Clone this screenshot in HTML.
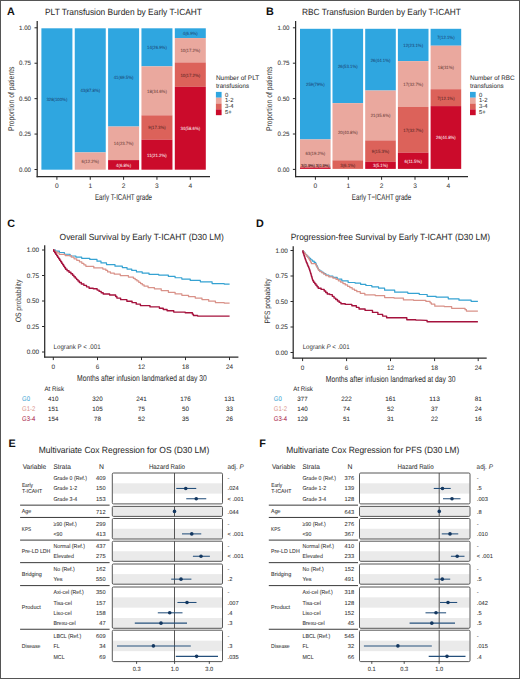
<!DOCTYPE html>
<html><head><meta charset="utf-8"><style>
html,body{margin:0;padding:0;background:#fff;width:520px;height:679px;overflow:hidden;}
body{position:relative;font-family:"Liberation Sans", sans-serif;}
</style></head><body>
<svg width="520" height="679" viewBox="0 0 520 679" style="position:absolute;left:0;top:0;font-family:'Liberation Sans', sans-serif;text-rendering:geometricPrecision">
<rect x="0" y="0" width="520" height="679" fill="#fff"/>
<rect x="41.40" y="28.30" width="31.00" height="141.40" fill="#2FA6E0"/>
<rect x="74.75" y="28.30" width="31.00" height="124.09" fill="#2FA6E0"/>
<rect x="74.75" y="152.39" width="31.00" height="17.31" fill="#EAA89E"/>
<rect x="108.10" y="28.30" width="31.00" height="98.26" fill="#2FA6E0"/>
<rect x="108.10" y="126.56" width="31.00" height="33.55" fill="#EAA89E"/>
<rect x="108.10" y="160.11" width="31.00" height="9.59" fill="#CB0B2B"/>
<rect x="141.45" y="28.30" width="31.00" height="38.07" fill="#2FA6E0"/>
<rect x="141.45" y="66.37" width="31.00" height="48.95" fill="#EAA89E"/>
<rect x="141.45" y="115.32" width="31.00" height="24.47" fill="#DC625A"/>
<rect x="141.45" y="139.79" width="31.00" height="29.91" fill="#CB0B2B"/>
<rect x="174.80" y="28.30" width="31.00" height="9.75" fill="#2FA6E0"/>
<rect x="174.80" y="38.05" width="31.00" height="24.38" fill="#EAA89E"/>
<rect x="174.80" y="62.43" width="31.00" height="24.38" fill="#DC625A"/>
<rect x="174.80" y="86.81" width="31.00" height="82.89" fill="#CB0B2B"/>
<text x="56.90" y="100.90" font-size="4.6" fill="#1a3d6e" text-anchor="middle" textLength="20.93" lengthAdjust="spacingAndGlyphs">328(100%)</text>
<text x="90.25" y="92.24" font-size="4.6" fill="#1a3d6e" text-anchor="middle" textLength="19.74" lengthAdjust="spacingAndGlyphs">43(87.8%)</text>
<text x="90.25" y="162.94" font-size="4.6" fill="#5e3432" text-anchor="middle" textLength="17.36" lengthAdjust="spacingAndGlyphs">6(12.2%)</text>
<text x="123.60" y="79.33" font-size="4.6" fill="#1a3d6e" text-anchor="middle" textLength="19.74" lengthAdjust="spacingAndGlyphs">41(69.5%)</text>
<text x="123.60" y="145.24" font-size="4.6" fill="#5e3432" text-anchor="middle" textLength="19.74" lengthAdjust="spacingAndGlyphs">14(23.7%)</text>
<text x="123.60" y="166.81" font-size="4.6" fill="#ffffff" text-anchor="middle" textLength="14.98" lengthAdjust="spacingAndGlyphs">4(6.8%)</text>
<text x="156.95" y="49.23" font-size="4.6" fill="#1a3d6e" text-anchor="middle" textLength="19.74" lengthAdjust="spacingAndGlyphs">14(26.9%)</text>
<text x="156.95" y="92.74" font-size="4.6" fill="#5e3432" text-anchor="middle" textLength="19.74" lengthAdjust="spacingAndGlyphs">18(34.6%)</text>
<text x="156.95" y="129.45" font-size="4.6" fill="#4e1e1e" text-anchor="middle" textLength="17.36" lengthAdjust="spacingAndGlyphs">9(17.3%)</text>
<text x="156.95" y="156.64" font-size="4.6" fill="#ffffff" text-anchor="middle" textLength="19.74" lengthAdjust="spacingAndGlyphs">11(21.2%)</text>
<text x="190.30" y="35.08" font-size="4.6" fill="#1a3d6e" text-anchor="middle" textLength="14.98" lengthAdjust="spacingAndGlyphs">4(6.9%)</text>
<text x="190.30" y="52.14" font-size="4.6" fill="#5e3432" text-anchor="middle" textLength="19.74" lengthAdjust="spacingAndGlyphs">10(17.2%)</text>
<text x="190.30" y="76.52" font-size="4.6" fill="#4e1e1e" text-anchor="middle" textLength="19.74" lengthAdjust="spacingAndGlyphs">10(17.2%)</text>
<text x="190.30" y="130.16" font-size="4.6" fill="#ffffff" text-anchor="middle" textLength="19.74" lengthAdjust="spacingAndGlyphs">34(58.6%)</text>
<line x1="37.20" y1="21.00" x2="37.20" y2="177.20" stroke="#2a2a2a" stroke-width="1.25"/>
<line x1="36.60" y1="176.70" x2="210.00" y2="176.70" stroke="#2a2a2a" stroke-width="1.25"/>
<line x1="34.50" y1="169.50" x2="37.20" y2="169.50" stroke="#2a2a2a" stroke-width="1.0"/>
<text x="31.00" y="171.75" font-size="6.3" fill="#3c3c3c" text-anchor="end" textLength="12.0" lengthAdjust="spacingAndGlyphs" stroke="#3c3c3c" stroke-width="0.08">0.00</text>
<line x1="34.50" y1="134.07" x2="37.20" y2="134.07" stroke="#2a2a2a" stroke-width="1.0"/>
<text x="31.00" y="136.32" font-size="6.3" fill="#3c3c3c" text-anchor="end" textLength="12.0" lengthAdjust="spacingAndGlyphs" stroke="#3c3c3c" stroke-width="0.08">0.25</text>
<line x1="34.50" y1="98.65" x2="37.20" y2="98.65" stroke="#2a2a2a" stroke-width="1.0"/>
<text x="31.00" y="100.90" font-size="6.3" fill="#3c3c3c" text-anchor="end" textLength="12.0" lengthAdjust="spacingAndGlyphs" stroke="#3c3c3c" stroke-width="0.08">0.50</text>
<line x1="34.50" y1="63.23" x2="37.20" y2="63.23" stroke="#2a2a2a" stroke-width="1.0"/>
<text x="31.00" y="65.48" font-size="6.3" fill="#3c3c3c" text-anchor="end" textLength="12.0" lengthAdjust="spacingAndGlyphs" stroke="#3c3c3c" stroke-width="0.08">0.75</text>
<line x1="34.50" y1="27.80" x2="37.20" y2="27.80" stroke="#2a2a2a" stroke-width="1.0"/>
<text x="31.00" y="30.05" font-size="6.3" fill="#3c3c3c" text-anchor="end" textLength="12.0" lengthAdjust="spacingAndGlyphs" stroke="#3c3c3c" stroke-width="0.08">1.00</text>
<line x1="56.90" y1="176.70" x2="56.90" y2="179.80" stroke="#2a2a2a" stroke-width="1.0"/>
<text x="56.90" y="188.30" font-size="6.6" fill="#3c3c3c" text-anchor="middle" stroke="#3c3c3c" stroke-width="0.06">0</text>
<line x1="90.25" y1="176.70" x2="90.25" y2="179.80" stroke="#2a2a2a" stroke-width="1.0"/>
<text x="90.25" y="188.30" font-size="6.6" fill="#3c3c3c" text-anchor="middle" stroke="#3c3c3c" stroke-width="0.06">1</text>
<line x1="123.60" y1="176.70" x2="123.60" y2="179.80" stroke="#2a2a2a" stroke-width="1.0"/>
<text x="123.60" y="188.30" font-size="6.6" fill="#3c3c3c" text-anchor="middle" stroke="#3c3c3c" stroke-width="0.06">2</text>
<line x1="156.95" y1="176.70" x2="156.95" y2="179.80" stroke="#2a2a2a" stroke-width="1.0"/>
<text x="156.95" y="188.30" font-size="6.6" fill="#3c3c3c" text-anchor="middle" stroke="#3c3c3c" stroke-width="0.06">3</text>
<line x1="190.30" y1="176.70" x2="190.30" y2="179.80" stroke="#2a2a2a" stroke-width="1.0"/>
<text x="190.30" y="188.30" font-size="6.6" fill="#3c3c3c" text-anchor="middle" stroke="#3c3c3c" stroke-width="0.06">4</text>
<text x="95.00" y="199.90" font-size="8.5" fill="#333333" textLength="57.0" lengthAdjust="spacingAndGlyphs" stroke="#333333" stroke-width="0.06">Early T-ICAHT grade</text>
<text transform="translate(13.70,98.80) rotate(-90)" font-size="8.3" fill="#333333" text-anchor="middle" textLength="64.5" lengthAdjust="spacingAndGlyphs">Proportion of patients</text>
<text x="45.00" y="15.00" font-size="8.9" fill="#2a2a2a" textLength="157" lengthAdjust="spacingAndGlyphs" stroke="#2a2a2a" stroke-width="0.04">PLT Transfusion Burden by Early T-ICAHT</text>
<text x="215.90" y="80.00" font-size="6.4" fill="#333333" textLength="43.3" lengthAdjust="spacingAndGlyphs" stroke="#333333" stroke-width="0.05">Number of PLT</text>
<text x="215.90" y="87.70" font-size="6.4" fill="#333333" textLength="33.1" lengthAdjust="spacingAndGlyphs" stroke="#333333" stroke-width="0.05">transfusions</text>
<rect x="215.90" y="91.90" width="5.70" height="5.82" fill="#2FA6E0"/>
<text x="224.90" y="96.60" font-size="5.9" fill="#333333" stroke="#333333" stroke-width="0.06">0</text>
<rect x="215.90" y="97.72" width="5.70" height="5.82" fill="#EAA89E"/>
<text x="224.90" y="102.42" font-size="5.9" fill="#333333" stroke="#333333" stroke-width="0.06">1-2</text>
<rect x="215.90" y="103.54" width="5.70" height="5.82" fill="#DC625A"/>
<text x="224.90" y="108.24" font-size="5.9" fill="#333333" stroke="#333333" stroke-width="0.06">3-4</text>
<rect x="215.90" y="109.36" width="5.70" height="5.82" fill="#CB0B2B"/>
<text x="224.90" y="114.06" font-size="5.9" fill="#333333" stroke="#333333" stroke-width="0.06">5+</text>
<rect x="300.00" y="28.80" width="30.60" height="110.63" fill="#2FA6E0"/>
<rect x="300.00" y="139.43" width="30.60" height="26.91" fill="#EAA89E"/>
<rect x="300.00" y="166.34" width="30.60" height="1.28" fill="#DC625A"/>
<rect x="300.00" y="167.62" width="30.60" height="1.28" fill="#CB0B2B"/>
<rect x="332.50" y="28.80" width="30.60" height="74.34" fill="#2FA6E0"/>
<rect x="332.50" y="103.14" width="30.60" height="57.18" fill="#EAA89E"/>
<rect x="332.50" y="160.32" width="30.60" height="8.58" fill="#DC625A"/>
<rect x="365.20" y="28.80" width="30.60" height="61.74" fill="#2FA6E0"/>
<rect x="365.20" y="90.54" width="30.60" height="49.87" fill="#EAA89E"/>
<rect x="365.20" y="140.41" width="30.60" height="21.37" fill="#DC625A"/>
<rect x="365.20" y="161.78" width="30.60" height="7.12" fill="#CB0B2B"/>
<rect x="397.90" y="28.80" width="30.60" height="32.33" fill="#2FA6E0"/>
<rect x="397.90" y="61.13" width="30.60" height="45.80" fill="#EAA89E"/>
<rect x="397.90" y="106.93" width="30.60" height="45.80" fill="#DC625A"/>
<rect x="397.90" y="152.73" width="30.60" height="16.17" fill="#CB0B2B"/>
<rect x="430.60" y="28.80" width="30.60" height="16.91" fill="#2FA6E0"/>
<rect x="430.60" y="45.71" width="30.60" height="43.48" fill="#EAA89E"/>
<rect x="430.60" y="89.19" width="30.60" height="16.91" fill="#DC625A"/>
<rect x="430.60" y="106.10" width="30.60" height="62.80" fill="#CB0B2B"/>
<text x="315.30" y="86.01" font-size="4.6" fill="#1a3d6e" text-anchor="middle" textLength="18.55" lengthAdjust="spacingAndGlyphs">259(79%)</text>
<text x="315.30" y="154.78" font-size="4.6" fill="#5e3432" text-anchor="middle" textLength="19.74" lengthAdjust="spacingAndGlyphs">63(19.2%)</text>
<text x="308.00" y="167.40" font-size="4.4" fill="#3a0a10" text-anchor="middle" textLength="13.87" lengthAdjust="spacingAndGlyphs" stroke="#3a0a10" stroke-width="0.05">3(0.9%)</text>
<text x="322.60" y="167.40" font-size="4.4" fill="#3a0a10" text-anchor="middle" textLength="13.87" lengthAdjust="spacingAndGlyphs" stroke="#3a0a10" stroke-width="0.05">3(0.9%)</text>
<text x="347.80" y="67.87" font-size="4.6" fill="#1a3d6e" text-anchor="middle" textLength="19.74" lengthAdjust="spacingAndGlyphs">26(53.1%)</text>
<text x="347.80" y="133.63" font-size="4.6" fill="#5e3432" text-anchor="middle" textLength="19.74" lengthAdjust="spacingAndGlyphs">20(40.8%)</text>
<text x="347.80" y="166.51" font-size="4.6" fill="#4e1e1e" text-anchor="middle" textLength="14.98" lengthAdjust="spacingAndGlyphs">3(6.1%)</text>
<text x="380.50" y="61.57" font-size="4.6" fill="#1a3d6e" text-anchor="middle" textLength="19.74" lengthAdjust="spacingAndGlyphs">26(44.1%)</text>
<text x="380.50" y="117.37" font-size="4.6" fill="#5e3432" text-anchor="middle" textLength="19.74" lengthAdjust="spacingAndGlyphs">21(35.6%)</text>
<text x="380.50" y="152.99" font-size="4.6" fill="#4e1e1e" text-anchor="middle" textLength="17.36" lengthAdjust="spacingAndGlyphs">9(15.3%)</text>
<text x="380.50" y="167.24" font-size="4.6" fill="#ffffff" text-anchor="middle" textLength="14.98" lengthAdjust="spacingAndGlyphs">3(5.1%)</text>
<text x="413.20" y="46.87" font-size="4.6" fill="#1a3d6e" text-anchor="middle" textLength="19.74" lengthAdjust="spacingAndGlyphs">12(23.1%)</text>
<text x="413.20" y="85.93" font-size="4.6" fill="#5e3432" text-anchor="middle" textLength="19.74" lengthAdjust="spacingAndGlyphs">17(32.7%)</text>
<text x="413.20" y="131.73" font-size="4.6" fill="#4e1e1e" text-anchor="middle" textLength="19.74" lengthAdjust="spacingAndGlyphs">17(32.7%)</text>
<text x="413.20" y="162.72" font-size="4.6" fill="#ffffff" text-anchor="middle" textLength="17.36" lengthAdjust="spacingAndGlyphs">6(11.5%)</text>
<text x="445.90" y="39.15" font-size="4.6" fill="#1a3d6e" text-anchor="middle" textLength="17.36" lengthAdjust="spacingAndGlyphs">7(12.1%)</text>
<text x="445.90" y="69.35" font-size="4.6" fill="#5e3432" text-anchor="middle" textLength="16.17" lengthAdjust="spacingAndGlyphs">18(31%)</text>
<text x="445.90" y="99.54" font-size="4.6" fill="#4e1e1e" text-anchor="middle" textLength="17.36" lengthAdjust="spacingAndGlyphs">7(12.1%)</text>
<text x="445.90" y="139.40" font-size="4.6" fill="#ffffff" text-anchor="middle" textLength="19.74" lengthAdjust="spacingAndGlyphs">26(44.8%)</text>
<line x1="295.60" y1="21.00" x2="295.60" y2="177.20" stroke="#2a2a2a" stroke-width="1.25"/>
<line x1="295.00" y1="176.70" x2="468.00" y2="176.70" stroke="#2a2a2a" stroke-width="1.25"/>
<line x1="292.90" y1="169.40" x2="295.60" y2="169.40" stroke="#2a2a2a" stroke-width="1.0"/>
<text x="289.50" y="171.65" font-size="6.3" fill="#3c3c3c" text-anchor="end" textLength="12.0" lengthAdjust="spacingAndGlyphs" stroke="#3c3c3c" stroke-width="0.08">0.00</text>
<line x1="292.90" y1="134.00" x2="295.60" y2="134.00" stroke="#2a2a2a" stroke-width="1.0"/>
<text x="289.50" y="136.25" font-size="6.3" fill="#3c3c3c" text-anchor="end" textLength="12.0" lengthAdjust="spacingAndGlyphs" stroke="#3c3c3c" stroke-width="0.08">0.25</text>
<line x1="292.90" y1="98.60" x2="295.60" y2="98.60" stroke="#2a2a2a" stroke-width="1.0"/>
<text x="289.50" y="100.85" font-size="6.3" fill="#3c3c3c" text-anchor="end" textLength="12.0" lengthAdjust="spacingAndGlyphs" stroke="#3c3c3c" stroke-width="0.08">0.50</text>
<line x1="292.90" y1="63.20" x2="295.60" y2="63.20" stroke="#2a2a2a" stroke-width="1.0"/>
<text x="289.50" y="65.45" font-size="6.3" fill="#3c3c3c" text-anchor="end" textLength="12.0" lengthAdjust="spacingAndGlyphs" stroke="#3c3c3c" stroke-width="0.08">0.75</text>
<line x1="292.90" y1="27.80" x2="295.60" y2="27.80" stroke="#2a2a2a" stroke-width="1.0"/>
<text x="289.50" y="30.05" font-size="6.3" fill="#3c3c3c" text-anchor="end" textLength="12.0" lengthAdjust="spacingAndGlyphs" stroke="#3c3c3c" stroke-width="0.08">1.00</text>
<line x1="315.40" y1="176.70" x2="315.40" y2="179.80" stroke="#2a2a2a" stroke-width="1.0"/>
<text x="315.40" y="188.30" font-size="6.6" fill="#3c3c3c" text-anchor="middle" stroke="#3c3c3c" stroke-width="0.06">0</text>
<line x1="348.30" y1="176.70" x2="348.30" y2="179.80" stroke="#2a2a2a" stroke-width="1.0"/>
<text x="348.30" y="188.30" font-size="6.6" fill="#3c3c3c" text-anchor="middle" stroke="#3c3c3c" stroke-width="0.06">1</text>
<line x1="381.60" y1="176.70" x2="381.60" y2="179.80" stroke="#2a2a2a" stroke-width="1.0"/>
<text x="381.60" y="188.30" font-size="6.6" fill="#3c3c3c" text-anchor="middle" stroke="#3c3c3c" stroke-width="0.06">2</text>
<line x1="415.00" y1="176.70" x2="415.00" y2="179.80" stroke="#2a2a2a" stroke-width="1.0"/>
<text x="415.00" y="188.30" font-size="6.6" fill="#3c3c3c" text-anchor="middle" stroke="#3c3c3c" stroke-width="0.06">3</text>
<line x1="448.40" y1="176.70" x2="448.40" y2="179.80" stroke="#2a2a2a" stroke-width="1.0"/>
<text x="448.40" y="188.30" font-size="6.6" fill="#3c3c3c" text-anchor="middle" stroke="#3c3c3c" stroke-width="0.06">4</text>
<text x="351.80" y="199.90" font-size="8.5" fill="#333333" textLength="59.5" lengthAdjust="spacingAndGlyphs" stroke="#333333" stroke-width="0.06">Early T−ICAHT grade</text>
<text transform="translate(272.00,98.80) rotate(-90)" font-size="8.3" fill="#333333" text-anchor="middle" textLength="64.5" lengthAdjust="spacingAndGlyphs">Proportion of patients</text>
<text x="302.00" y="15.00" font-size="8.9" fill="#2a2a2a" textLength="158.8" lengthAdjust="spacingAndGlyphs" stroke="#2a2a2a" stroke-width="0.04">RBC Transfusion Burden by Early T-ICAHT</text>
<text x="470.00" y="80.00" font-size="6.4" fill="#333333" textLength="44.6" lengthAdjust="spacingAndGlyphs" stroke="#333333" stroke-width="0.05">Number of RBC</text>
<text x="470.00" y="87.70" font-size="6.4" fill="#333333" textLength="33.5" lengthAdjust="spacingAndGlyphs" stroke="#333333" stroke-width="0.05">transfusions</text>
<rect x="470.00" y="91.90" width="5.70" height="5.82" fill="#2FA6E0"/>
<text x="479.00" y="96.60" font-size="5.9" fill="#333333" stroke="#333333" stroke-width="0.06">0</text>
<rect x="470.00" y="97.72" width="5.70" height="5.82" fill="#EAA89E"/>
<text x="479.00" y="102.42" font-size="5.9" fill="#333333" stroke="#333333" stroke-width="0.06">1-2</text>
<rect x="470.00" y="103.54" width="5.70" height="5.82" fill="#DC625A"/>
<text x="479.00" y="108.24" font-size="5.9" fill="#333333" stroke="#333333" stroke-width="0.06">3-4</text>
<rect x="470.00" y="109.36" width="5.70" height="5.82" fill="#CB0B2B"/>
<text x="479.00" y="114.06" font-size="5.9" fill="#333333" stroke="#333333" stroke-width="0.06">5+</text>
<text x="6.90" y="14.80" font-size="10.8" fill="#111" font-weight="bold">A</text>
<text x="265.90" y="14.80" font-size="10.8" fill="#111" font-weight="bold">B</text>
<text x="7.20" y="227.20" font-size="10.8" fill="#111" font-weight="bold">C</text>
<text x="256.00" y="227.20" font-size="10.8" fill="#111" font-weight="bold">D</text>
<text x="8.50" y="447.20" font-size="10.8" fill="#111" font-weight="bold">E</text>
<text x="259.30" y="447.20" font-size="10.8" fill="#111" font-weight="bold">F</text>
<line x1="44.70" y1="245.20" x2="44.70" y2="357.50" stroke="#2a2a2a" stroke-width="1.25"/>
<line x1="44.10" y1="357.00" x2="238.40" y2="357.00" stroke="#2a2a2a" stroke-width="1.25"/>
<line x1="42.00" y1="352.00" x2="44.70" y2="352.00" stroke="#2a2a2a" stroke-width="1.0"/>
<text x="39.10" y="354.30" font-size="6.4" fill="#3c3c3c" text-anchor="end" textLength="12.4" lengthAdjust="spacingAndGlyphs" stroke="#3c3c3c" stroke-width="0.08">0.00</text>
<line x1="42.00" y1="326.50" x2="44.70" y2="326.50" stroke="#2a2a2a" stroke-width="1.0"/>
<text x="39.10" y="328.80" font-size="6.4" fill="#3c3c3c" text-anchor="end" textLength="12.4" lengthAdjust="spacingAndGlyphs" stroke="#3c3c3c" stroke-width="0.08">0.25</text>
<line x1="42.00" y1="301.00" x2="44.70" y2="301.00" stroke="#2a2a2a" stroke-width="1.0"/>
<text x="39.10" y="303.30" font-size="6.4" fill="#3c3c3c" text-anchor="end" textLength="12.4" lengthAdjust="spacingAndGlyphs" stroke="#3c3c3c" stroke-width="0.08">0.50</text>
<line x1="42.00" y1="275.50" x2="44.70" y2="275.50" stroke="#2a2a2a" stroke-width="1.0"/>
<text x="39.10" y="277.80" font-size="6.4" fill="#3c3c3c" text-anchor="end" textLength="12.4" lengthAdjust="spacingAndGlyphs" stroke="#3c3c3c" stroke-width="0.08">0.75</text>
<line x1="42.00" y1="250.00" x2="44.70" y2="250.00" stroke="#2a2a2a" stroke-width="1.0"/>
<text x="39.10" y="252.30" font-size="6.4" fill="#3c3c3c" text-anchor="end" textLength="12.4" lengthAdjust="spacingAndGlyphs" stroke="#3c3c3c" stroke-width="0.08">1.00</text>
<line x1="53.30" y1="357.00" x2="53.30" y2="360.10" stroke="#2a2a2a" stroke-width="1.0"/>
<text x="53.30" y="368.60" font-size="6.4" fill="#3c3c3c" text-anchor="middle" stroke="#3c3c3c" stroke-width="0.06">0</text>
<line x1="97.50" y1="357.00" x2="97.50" y2="360.10" stroke="#2a2a2a" stroke-width="1.0"/>
<text x="97.50" y="368.60" font-size="6.4" fill="#3c3c3c" text-anchor="middle" stroke="#3c3c3c" stroke-width="0.06">6</text>
<line x1="141.50" y1="357.00" x2="141.50" y2="360.10" stroke="#2a2a2a" stroke-width="1.0"/>
<text x="141.50" y="368.60" font-size="6.4" fill="#3c3c3c" text-anchor="middle" stroke="#3c3c3c" stroke-width="0.06">12</text>
<line x1="185.50" y1="357.00" x2="185.50" y2="360.10" stroke="#2a2a2a" stroke-width="1.0"/>
<text x="185.50" y="368.60" font-size="6.4" fill="#3c3c3c" text-anchor="middle" stroke="#3c3c3c" stroke-width="0.06">18</text>
<line x1="229.50" y1="357.00" x2="229.50" y2="360.10" stroke="#2a2a2a" stroke-width="1.0"/>
<text x="229.50" y="368.60" font-size="6.4" fill="#3c3c3c" text-anchor="middle" stroke="#3c3c3c" stroke-width="0.06">24</text>
<text x="77.00" y="380.70" font-size="8.6" fill="#333333" textLength="129.7" lengthAdjust="spacingAndGlyphs" stroke="#333333" stroke-width="0.06">Months after infusion landmarked at day 30</text>
<text transform="translate(21.40,301.00) rotate(-90)" font-size="7.8" fill="#333333" text-anchor="middle" textLength="42.7" lengthAdjust="spacingAndGlyphs">OS probability</text>
<text x="59.60" y="239.80" font-size="8.9" fill="#2a2a2a" textLength="164.2" lengthAdjust="spacingAndGlyphs" stroke="#2a2a2a" stroke-width="0.04">Overall Survival by Early T-ICAHT (D30 LM)</text>
<path d="M53.20,249.80 L55.28,249.80 L55.28,251.15 L59.42,251.15 L59.42,252.50 L61.50,252.50 L64.38,252.50 L64.38,254.25 L70.12,254.25 L70.12,256.00 L73.00,256.00 L75.90,256.00 L75.90,257.15 L81.70,257.15 L81.70,258.30 L84.60,258.30 L89.80,258.30 L89.80,259.40 L95.00,259.40 L97.00,259.40 L97.00,261.15 L101.00,261.15 L101.00,262.90 L103.00,262.90 L106.50,262.90 L106.50,264.60 L110.00,264.60 L115.00,264.60 L115.00,266.20 L120.00,266.20 L122.35,266.20 L122.35,267.62 L127.05,267.62 L127.05,269.05 L131.75,269.05 L131.75,270.47 L136.45,270.47 L136.45,271.90 L138.80,271.90 L142.23,271.90 L142.23,273.15 L149.07,273.15 L149.07,274.40 L152.50,274.40 L158.75,274.40 L158.75,275.10 L165.00,275.10 L168.37,275.10 L168.37,276.43 L175.10,276.43 L175.10,277.77 L181.83,277.77 L181.83,279.10 L185.20,279.10 L190.25,279.10 L190.25,280.45 L200.35,280.45 L200.35,281.80 L205.40,281.80 L212.10,281.80 L212.10,283.60 L218.80,283.60 L224.20,283.60 L224.20,284.10 L229.60,284.10" fill="none" stroke="#35A2D2" stroke-width="1.2" stroke-linejoin="round"/>
<path d="M53.20,249.80 L54.40,249.80 L54.40,251.30 L56.80,251.30 L56.80,252.80 L59.20,252.80 L59.20,254.30 L60.40,254.30 L65.20,254.30 L65.20,255.60 L70.00,255.60 L71.35,255.60 L71.35,257.18 L74.05,257.18 L74.05,258.75 L76.75,258.75 L76.75,260.32 L79.45,260.32 L79.45,261.90 L80.80,261.90 L81.82,261.90 L81.82,263.37 L83.85,263.37 L83.85,264.83 L85.88,264.83 L85.88,266.30 L86.90,266.30 L93.80,266.30 L93.80,267.90 L100.70,267.90 L102.85,267.90 L102.85,269.00 L105.00,269.00 L105.88,269.00 L105.88,270.45 L107.62,270.45 L107.62,271.90 L108.50,271.90 L110.42,271.90 L110.42,273.05 L114.28,273.05 L114.28,274.20 L116.20,274.20 L120.28,274.20 L120.28,275.60 L128.43,275.60 L128.43,277.00 L132.50,277.00 L133.39,277.00 L133.39,278.31 L135.18,278.31 L135.18,279.63 L136.96,279.63 L136.96,280.94 L138.75,280.94 L138.75,282.26 L140.54,282.26 L140.54,283.57 L142.32,283.57 L142.32,284.89 L144.11,284.89 L144.11,286.20 L145.00,286.20 L148.12,286.20 L148.12,287.50 L154.38,287.50 L154.38,288.80 L157.50,288.80 L161.25,288.80 L161.25,290.60 L165.00,290.60 L168.38,290.60 L168.38,292.25 L175.12,292.25 L175.12,293.90 L178.50,293.90 L181.85,293.90 L181.85,295.27 L188.55,295.27 L188.55,296.63 L195.25,296.63 L195.25,298.00 L198.60,298.00 L201.97,298.00 L201.97,299.57 L208.70,299.57 L208.70,301.13 L215.43,301.13 L215.43,302.70 L218.80,302.70 L224.20,302.70 L224.20,303.00 L229.60,303.00" fill="none" stroke="#D99289" stroke-width="1.25" stroke-linejoin="round"/>
<path d="M53.20,249.80 L53.70,249.80 L53.70,251.30 L54.70,251.30 L54.70,252.80 L55.70,252.80 L55.70,254.30 L56.70,254.30 L56.70,255.80 L57.70,255.80 L57.70,257.30 L58.70,257.30 L58.70,258.80 L59.20,258.80 L59.69,258.80 L59.69,260.29 L60.68,260.29 L60.68,261.77 L61.66,261.77 L61.66,263.26 L62.65,263.26 L62.65,264.74 L63.64,264.74 L63.64,266.23 L64.62,266.23 L64.62,267.71 L65.61,267.71 L65.61,269.20 L66.10,269.20 L67.07,269.20 L67.07,270.73 L69.00,270.73 L69.00,272.27 L70.93,272.27 L70.93,273.80 L71.90,273.80 L72.58,273.80 L72.58,275.25 L73.93,275.25 L73.93,276.70 L75.28,276.70 L75.28,278.15 L76.62,278.15 L76.62,279.60 L77.97,279.60 L77.97,281.05 L79.33,281.05 L79.33,282.50 L80.00,282.50 L81.30,282.50 L81.30,283.95 L83.90,283.95 L83.90,285.40 L86.50,285.40 L86.50,286.85 L89.10,286.85 L89.10,288.30 L90.40,288.30 L93.25,288.30 L93.25,288.80 L96.10,288.80 L97.11,288.80 L97.11,290.10 L99.14,290.10 L99.14,291.40 L101.16,291.40 L101.16,292.70 L103.19,292.70 L103.19,294.00 L104.20,294.00 L109.60,294.00 L109.60,295.00 L115.00,295.00 L115.62,295.00 L115.62,296.55 L116.88,296.55 L116.88,298.10 L117.50,298.10 L120.62,298.10 L120.62,299.65 L126.88,299.65 L126.88,301.20 L130.00,301.20 L132.08,301.20 L132.08,302.67 L136.25,302.67 L136.25,304.13 L140.42,304.13 L140.42,305.60 L142.50,305.60 L150.00,305.60 L150.00,306.90 L157.50,306.90 L159.42,306.90 L159.42,308.20 L163.25,308.20 L163.25,309.50 L167.08,309.50 L167.08,310.80 L169.00,310.80 L173.75,310.80 L173.75,312.10 L178.50,312.10 L185.20,312.10 L185.20,312.80 L191.90,312.80 L192.40,312.80 L192.40,314.15 L193.40,314.15 L193.40,315.50 L193.90,315.50 L197.60,315.50 L197.60,316.10 L201.30,316.10 L229.60,316.10" fill="none" stroke="#A5123D" stroke-width="1.4" stroke-linejoin="round"/>
<text x="53.6" y="348.7" font-size="6.7" fill="#333" textLength="47.00" lengthAdjust="spacingAndGlyphs">Logrank P &lt; .001</text>
<text x="44.50" y="391.30" font-size="6.7" fill="#333" textLength="19.5" lengthAdjust="spacingAndGlyphs" stroke="#333" stroke-width="0.06">At Risk</text>
<text x="22.00" y="400.60" font-size="6.8" fill="#35A2D2" textLength="7.98" lengthAdjust="spacingAndGlyphs">G0</text>
<text x="53.30" y="400.60" font-size="6.3" fill="#2a2a2a" text-anchor="middle" textLength="10.51" lengthAdjust="spacingAndGlyphs" stroke="#2a2a2a" stroke-width="0.04">410</text>
<text x="97.50" y="400.60" font-size="6.3" fill="#2a2a2a" text-anchor="middle" textLength="10.51" lengthAdjust="spacingAndGlyphs" stroke="#2a2a2a" stroke-width="0.04">320</text>
<text x="141.50" y="400.60" font-size="6.3" fill="#2a2a2a" text-anchor="middle" textLength="10.51" lengthAdjust="spacingAndGlyphs" stroke="#2a2a2a" stroke-width="0.04">241</text>
<text x="185.50" y="400.60" font-size="6.3" fill="#2a2a2a" text-anchor="middle" textLength="10.51" lengthAdjust="spacingAndGlyphs" stroke="#2a2a2a" stroke-width="0.04">176</text>
<text x="229.50" y="400.60" font-size="6.3" fill="#2a2a2a" text-anchor="middle" textLength="10.51" lengthAdjust="spacingAndGlyphs" stroke="#2a2a2a" stroke-width="0.04">131</text>
<text x="22.00" y="410.60" font-size="6.8" fill="#D99289" textLength="13.3" lengthAdjust="spacingAndGlyphs">G1-2</text>
<text x="53.30" y="410.60" font-size="6.3" fill="#2a2a2a" text-anchor="middle" textLength="10.51" lengthAdjust="spacingAndGlyphs" stroke="#2a2a2a" stroke-width="0.04">151</text>
<text x="97.50" y="410.60" font-size="6.3" fill="#2a2a2a" text-anchor="middle" textLength="10.51" lengthAdjust="spacingAndGlyphs" stroke="#2a2a2a" stroke-width="0.04">105</text>
<text x="141.50" y="410.60" font-size="6.3" fill="#2a2a2a" text-anchor="middle" textLength="7.01" lengthAdjust="spacingAndGlyphs" stroke="#2a2a2a" stroke-width="0.04">75</text>
<text x="185.50" y="410.60" font-size="6.3" fill="#2a2a2a" text-anchor="middle" textLength="7.01" lengthAdjust="spacingAndGlyphs" stroke="#2a2a2a" stroke-width="0.04">50</text>
<text x="229.50" y="410.60" font-size="6.3" fill="#2a2a2a" text-anchor="middle" textLength="7.01" lengthAdjust="spacingAndGlyphs" stroke="#2a2a2a" stroke-width="0.04">33</text>
<text x="22.00" y="420.60" font-size="6.8" fill="#A5123D" textLength="13.3" lengthAdjust="spacingAndGlyphs">G3-4</text>
<text x="53.30" y="420.60" font-size="6.3" fill="#2a2a2a" text-anchor="middle" textLength="10.51" lengthAdjust="spacingAndGlyphs" stroke="#2a2a2a" stroke-width="0.04">154</text>
<text x="97.50" y="420.60" font-size="6.3" fill="#2a2a2a" text-anchor="middle" textLength="7.01" lengthAdjust="spacingAndGlyphs" stroke="#2a2a2a" stroke-width="0.04">78</text>
<text x="141.50" y="420.60" font-size="6.3" fill="#2a2a2a" text-anchor="middle" textLength="7.01" lengthAdjust="spacingAndGlyphs" stroke="#2a2a2a" stroke-width="0.04">52</text>
<text x="185.50" y="420.60" font-size="6.3" fill="#2a2a2a" text-anchor="middle" textLength="7.01" lengthAdjust="spacingAndGlyphs" stroke="#2a2a2a" stroke-width="0.04">35</text>
<text x="229.50" y="420.60" font-size="6.3" fill="#2a2a2a" text-anchor="middle" textLength="7.01" lengthAdjust="spacingAndGlyphs" stroke="#2a2a2a" stroke-width="0.04">26</text>
<line x1="293.20" y1="246.20" x2="293.20" y2="358.50" stroke="#2a2a2a" stroke-width="1.25"/>
<line x1="292.60" y1="358.00" x2="486.70" y2="358.00" stroke="#2a2a2a" stroke-width="1.25"/>
<line x1="290.50" y1="352.50" x2="293.20" y2="352.50" stroke="#2a2a2a" stroke-width="1.0"/>
<text x="287.80" y="354.80" font-size="6.4" fill="#3c3c3c" text-anchor="end" textLength="12.4" lengthAdjust="spacingAndGlyphs" stroke="#3c3c3c" stroke-width="0.08">0.00</text>
<line x1="290.50" y1="327.00" x2="293.20" y2="327.00" stroke="#2a2a2a" stroke-width="1.0"/>
<text x="287.80" y="329.30" font-size="6.4" fill="#3c3c3c" text-anchor="end" textLength="12.4" lengthAdjust="spacingAndGlyphs" stroke="#3c3c3c" stroke-width="0.08">0.25</text>
<line x1="290.50" y1="301.50" x2="293.20" y2="301.50" stroke="#2a2a2a" stroke-width="1.0"/>
<text x="287.80" y="303.80" font-size="6.4" fill="#3c3c3c" text-anchor="end" textLength="12.4" lengthAdjust="spacingAndGlyphs" stroke="#3c3c3c" stroke-width="0.08">0.50</text>
<line x1="290.50" y1="276.00" x2="293.20" y2="276.00" stroke="#2a2a2a" stroke-width="1.0"/>
<text x="287.80" y="278.30" font-size="6.4" fill="#3c3c3c" text-anchor="end" textLength="12.4" lengthAdjust="spacingAndGlyphs" stroke="#3c3c3c" stroke-width="0.08">0.75</text>
<line x1="290.50" y1="250.50" x2="293.20" y2="250.50" stroke="#2a2a2a" stroke-width="1.0"/>
<text x="287.80" y="252.80" font-size="6.4" fill="#3c3c3c" text-anchor="end" textLength="12.4" lengthAdjust="spacingAndGlyphs" stroke="#3c3c3c" stroke-width="0.08">1.00</text>
<line x1="302.60" y1="358.00" x2="302.60" y2="361.10" stroke="#2a2a2a" stroke-width="1.0"/>
<text x="302.60" y="369.60" font-size="6.4" fill="#3c3c3c" text-anchor="middle" stroke="#3c3c3c" stroke-width="0.06">0</text>
<line x1="346.60" y1="358.00" x2="346.60" y2="361.10" stroke="#2a2a2a" stroke-width="1.0"/>
<text x="346.60" y="369.60" font-size="6.4" fill="#3c3c3c" text-anchor="middle" stroke="#3c3c3c" stroke-width="0.06">6</text>
<line x1="390.50" y1="358.00" x2="390.50" y2="361.10" stroke="#2a2a2a" stroke-width="1.0"/>
<text x="390.50" y="369.60" font-size="6.4" fill="#3c3c3c" text-anchor="middle" stroke="#3c3c3c" stroke-width="0.06">12</text>
<line x1="434.60" y1="358.00" x2="434.60" y2="361.10" stroke="#2a2a2a" stroke-width="1.0"/>
<text x="434.60" y="369.60" font-size="6.4" fill="#3c3c3c" text-anchor="middle" stroke="#3c3c3c" stroke-width="0.06">18</text>
<line x1="478.20" y1="358.00" x2="478.20" y2="361.10" stroke="#2a2a2a" stroke-width="1.0"/>
<text x="478.20" y="369.60" font-size="6.4" fill="#3c3c3c" text-anchor="middle" stroke="#3c3c3c" stroke-width="0.06">24</text>
<text x="325.80" y="381.50" font-size="8.6" fill="#333333" textLength="129.6" lengthAdjust="spacingAndGlyphs" stroke="#333333" stroke-width="0.06">Months after infusion landmarked at day 30</text>
<text transform="translate(269.80,301.00) rotate(-90)" font-size="7.8" fill="#333333" text-anchor="middle" textLength="45" lengthAdjust="spacingAndGlyphs">PFS probability</text>
<text x="290.75" y="239.80" font-size="8.9" fill="#2a2a2a" textLength="199.25" lengthAdjust="spacingAndGlyphs" stroke="#2a2a2a" stroke-width="0.04">Progression-free Survival by Early T-ICAHT (D30 LM)</text>
<path d="M302.60,250.60 L303.18,250.60 L303.18,251.90 L304.34,251.90 L304.34,253.20 L305.50,253.20 L305.50,254.50 L306.66,254.50 L306.66,255.80 L307.82,255.80 L307.82,257.10 L308.40,257.10 L309.17,257.10 L309.17,258.43 L310.70,258.43 L310.70,259.77 L312.23,259.77 L312.23,261.10 L313.00,261.10 L314.15,261.10 L314.15,262.30 L315.30,262.30 L315.65,262.30 L315.65,263.80 L316.35,263.80 L316.35,265.30 L317.05,265.30 L317.05,266.80 L317.75,266.80 L317.75,268.30 L318.45,268.30 L318.45,269.80 L318.80,269.80 L319.80,269.80 L319.80,271.10 L321.80,271.10 L321.80,272.40 L323.80,272.40 L323.80,273.70 L325.80,273.70 L325.80,275.00 L326.80,275.00 L328.82,275.00 L328.82,276.15 L332.88,276.15 L332.88,277.30 L334.90,277.30 L337.20,277.30 L337.20,279.05 L341.80,279.05 L341.80,280.80 L344.10,280.80 L348.15,280.80 L348.15,282.50 L352.20,282.50 L355.10,282.50 L355.10,283.10 L358.00,283.10 L360.62,283.10 L360.62,284.30 L365.88,284.30 L365.88,285.50 L368.50,285.50 L371.85,285.50 L371.85,286.85 L378.55,286.85 L378.55,288.20 L381.90,288.20 L384.60,288.20 L384.60,290.20 L387.30,290.20 L394.70,290.20 L394.70,292.20 L402.10,292.20 L407.83,292.20 L407.83,293.35 L419.27,293.35 L419.27,294.50 L425.00,294.50 L427.20,294.50 L427.20,296.40 L429.40,296.40 L436.15,296.40 L436.15,297.20 L442.90,297.20 L448.25,297.20 L448.25,298.80 L453.60,298.80 L459.00,298.80 L459.00,300.20 L464.40,300.20 L471.15,300.20 L471.15,301.30 L477.90,301.30" fill="none" stroke="#35A2D2" stroke-width="1.2" stroke-linejoin="round"/>
<path d="M302.60,250.60 L303.18,250.60 L303.18,252.00 L304.34,252.00 L304.34,253.40 L305.50,253.40 L305.50,254.80 L306.66,254.80 L306.66,256.20 L307.82,256.20 L307.82,257.60 L308.40,257.60 L308.82,257.60 L308.82,259.08 L309.68,259.08 L309.68,260.55 L310.52,260.55 L310.52,262.02 L311.38,262.02 L311.38,263.50 L311.80,263.50 L315.30,263.50 L315.65,263.50 L315.65,264.84 L316.35,264.84 L316.35,266.18 L317.05,266.18 L317.05,267.52 L317.75,267.52 L317.75,268.86 L318.45,268.86 L318.45,270.20 L318.80,270.20 L319.80,270.20 L319.80,271.52 L321.80,271.52 L321.80,272.85 L323.80,272.85 L323.80,274.18 L325.80,274.18 L325.80,275.50 L326.80,275.50 L328.82,275.50 L328.82,276.75 L332.88,276.75 L332.88,278.00 L334.90,278.00 L336.05,278.00 L336.05,279.40 L338.35,279.40 L338.35,280.80 L340.65,280.80 L340.65,282.20 L342.95,282.20 L342.95,283.60 L344.10,283.60 L345.25,283.60 L345.25,284.97 L347.55,284.97 L347.55,286.33 L349.85,286.33 L349.85,287.70 L351.00,287.70 L352.17,287.70 L352.17,289.03 L354.50,289.03 L354.50,290.37 L356.83,290.37 L356.83,291.70 L358.00,291.70 L360.27,291.70 L360.27,293.30 L364.83,293.30 L364.83,294.90 L367.10,294.90 L375.20,294.90 L375.20,295.60 L383.30,295.60 L384.65,295.60 L384.65,297.60 L386.00,297.60 L394.05,297.60 L394.05,298.00 L402.10,298.00 L403.45,298.00 L403.45,299.90 L404.80,299.90 L413.55,299.90 L413.55,300.30 L422.30,300.30 L425.85,300.30 L425.85,301.30 L429.40,301.30 L430.07,301.30 L430.07,302.75 L431.43,302.75 L431.43,304.20 L432.10,304.20 L434.80,304.20 L434.80,306.20 L437.50,306.20 L444.25,306.20 L444.25,306.60 L451.00,306.60 L451.65,306.60 L451.65,308.30 L452.30,308.30 L464.40,308.30 L465.07,308.30 L465.07,309.65 L466.43,309.65 L466.43,311.00 L467.10,311.00 L477.90,311.20" fill="none" stroke="#D99289" stroke-width="1.25" stroke-linejoin="round"/>
<path d="M302.60,250.80 L302.85,250.80 L302.85,252.27 L303.35,252.27 L303.35,253.74 L303.85,253.74 L303.85,255.21 L304.35,255.21 L304.35,256.69 L304.85,256.69 L304.85,258.16 L305.35,258.16 L305.35,259.63 L305.85,259.63 L305.85,261.10 L306.10,261.10 L306.38,261.10 L306.38,262.45 L306.95,262.45 L306.95,263.80 L307.52,263.80 L307.52,265.15 L308.08,265.15 L308.08,266.50 L308.65,266.50 L308.65,267.85 L309.22,267.85 L309.22,269.20 L309.50,269.20 L309.72,269.20 L309.72,270.65 L310.16,270.65 L310.16,272.10 L310.59,272.10 L310.59,273.55 L311.03,273.55 L311.03,275.00 L311.47,275.00 L311.47,276.45 L311.91,276.45 L311.91,277.90 L312.34,277.90 L312.34,279.35 L312.78,279.35 L312.78,280.80 L313.00,280.80 L313.58,280.80 L313.58,282.30 L314.74,282.30 L314.74,283.80 L315.90,283.80 L315.90,285.30 L317.06,285.30 L317.06,286.80 L318.22,286.80 L318.22,288.30 L318.80,288.30 L321.10,288.30 L321.10,289.40 L323.40,289.40 L324.17,289.40 L324.17,290.93 L325.70,290.93 L325.70,292.47 L327.23,292.47 L327.23,294.00 L328.00,294.00 L329.70,294.00 L329.70,294.60 L331.40,294.60 L332.27,294.60 L332.27,296.35 L334.02,296.35 L334.02,298.10 L334.90,298.10 L335.76,298.10 L335.76,299.53 L337.49,299.53 L337.49,300.95 L339.21,300.95 L339.21,302.38 L340.94,302.38 L340.94,303.80 L341.80,303.80 L345.25,303.80 L345.25,304.40 L348.70,304.40 L351.85,304.40 L351.85,305.70 L355.00,305.70 L356.35,305.70 L356.35,307.35 L359.05,307.35 L359.05,309.00 L360.40,309.00 L365.10,309.00 L365.10,310.40 L369.80,310.40 L372.50,310.40 L372.50,312.40 L375.20,312.40 L377.90,312.40 L377.90,314.40 L380.60,314.40 L382.60,314.40 L382.60,316.10 L386.60,316.10 L386.60,317.80 L388.60,317.80 L402.10,317.80 L406.80,317.80 L406.80,319.80 L411.50,319.80 L415.75,319.80 L415.75,320.10 L420.00,320.10 L426.10,320.40 L427.10,320.40 L427.10,321.70 L428.10,321.70 L477.90,321.70" fill="none" stroke="#A5123D" stroke-width="1.4" stroke-linejoin="round"/>
<text x="302.7" y="348.7" font-size="6.7" fill="#333" textLength="46.90" lengthAdjust="spacingAndGlyphs">Logrank <tspan font-style="italic">P</tspan> &lt; .001</text>
<text x="293.30" y="391.30" font-size="6.7" fill="#333" textLength="19.5" lengthAdjust="spacingAndGlyphs" stroke="#333" stroke-width="0.06">At Risk</text>
<text x="273.80" y="400.60" font-size="6.8" fill="#35A2D2" textLength="7.98" lengthAdjust="spacingAndGlyphs">G0</text>
<text x="302.60" y="400.60" font-size="6.3" fill="#2a2a2a" text-anchor="middle" textLength="10.51" lengthAdjust="spacingAndGlyphs" stroke="#2a2a2a" stroke-width="0.04">377</text>
<text x="346.60" y="400.60" font-size="6.3" fill="#2a2a2a" text-anchor="middle" textLength="10.51" lengthAdjust="spacingAndGlyphs" stroke="#2a2a2a" stroke-width="0.04">222</text>
<text x="390.50" y="400.60" font-size="6.3" fill="#2a2a2a" text-anchor="middle" textLength="10.51" lengthAdjust="spacingAndGlyphs" stroke="#2a2a2a" stroke-width="0.04">161</text>
<text x="434.60" y="400.60" font-size="6.3" fill="#2a2a2a" text-anchor="middle" textLength="10.51" lengthAdjust="spacingAndGlyphs" stroke="#2a2a2a" stroke-width="0.04">113</text>
<text x="478.20" y="400.60" font-size="6.3" fill="#2a2a2a" text-anchor="middle" textLength="7.01" lengthAdjust="spacingAndGlyphs" stroke="#2a2a2a" stroke-width="0.04">81</text>
<text x="273.80" y="410.60" font-size="6.8" fill="#D99289" textLength="13.3" lengthAdjust="spacingAndGlyphs">G1-2</text>
<text x="302.60" y="410.60" font-size="6.3" fill="#2a2a2a" text-anchor="middle" textLength="10.51" lengthAdjust="spacingAndGlyphs" stroke="#2a2a2a" stroke-width="0.04">140</text>
<text x="346.60" y="410.60" font-size="6.3" fill="#2a2a2a" text-anchor="middle" textLength="7.01" lengthAdjust="spacingAndGlyphs" stroke="#2a2a2a" stroke-width="0.04">74</text>
<text x="390.50" y="410.60" font-size="6.3" fill="#2a2a2a" text-anchor="middle" textLength="7.01" lengthAdjust="spacingAndGlyphs" stroke="#2a2a2a" stroke-width="0.04">52</text>
<text x="434.60" y="410.60" font-size="6.3" fill="#2a2a2a" text-anchor="middle" textLength="7.01" lengthAdjust="spacingAndGlyphs" stroke="#2a2a2a" stroke-width="0.04">37</text>
<text x="478.20" y="410.60" font-size="6.3" fill="#2a2a2a" text-anchor="middle" textLength="7.01" lengthAdjust="spacingAndGlyphs" stroke="#2a2a2a" stroke-width="0.04">24</text>
<text x="273.80" y="420.60" font-size="6.8" fill="#A5123D" textLength="13.3" lengthAdjust="spacingAndGlyphs">G3-4</text>
<text x="302.60" y="420.60" font-size="6.3" fill="#2a2a2a" text-anchor="middle" textLength="10.51" lengthAdjust="spacingAndGlyphs" stroke="#2a2a2a" stroke-width="0.04">129</text>
<text x="346.60" y="420.60" font-size="6.3" fill="#2a2a2a" text-anchor="middle" textLength="7.01" lengthAdjust="spacingAndGlyphs" stroke="#2a2a2a" stroke-width="0.04">51</text>
<text x="390.50" y="420.60" font-size="6.3" fill="#2a2a2a" text-anchor="middle" textLength="7.01" lengthAdjust="spacingAndGlyphs" stroke="#2a2a2a" stroke-width="0.04">31</text>
<text x="434.60" y="420.60" font-size="6.3" fill="#2a2a2a" text-anchor="middle" textLength="7.01" lengthAdjust="spacingAndGlyphs" stroke="#2a2a2a" stroke-width="0.04">22</text>
<text x="478.20" y="420.60" font-size="6.3" fill="#2a2a2a" text-anchor="middle" textLength="7.01" lengthAdjust="spacingAndGlyphs" stroke="#2a2a2a" stroke-width="0.04">16</text>
<text x="38.75" y="452.90" font-size="8.9" fill="#2a2a2a" textLength="170.45" lengthAdjust="spacingAndGlyphs" stroke="#2a2a2a" stroke-width="0.04">Multivariate Cox Regression for OS (D30 LM)</text>
<text x="22.70" y="468.80" font-size="6.8" fill="#333" textLength="23.5" lengthAdjust="spacingAndGlyphs" stroke="#333" stroke-width="0.06">Variable</text>
<text x="53.50" y="468.80" font-size="6.8" fill="#333" textLength="17.3" lengthAdjust="spacingAndGlyphs" stroke="#333" stroke-width="0.06">Strata</text>
<text x="103.80" y="468.80" font-size="6.8" fill="#333" text-anchor="end" stroke="#333" stroke-width="0.06">N</text>
<text x="148.90" y="468.80" font-size="6.8" fill="#333" textLength="36.1" lengthAdjust="spacingAndGlyphs" stroke="#333" stroke-width="0.06">Hazard Ratio</text>
<text x="227.40" y="468.8" font-size="6.8" fill="#333" textLength="16.3" lengthAdjust="spacingAndGlyphs">adj. <tspan font-style="italic">P</tspan></text>
<rect x="112.3" y="473.00" width="110.20" height="30.90" fill="#fff"/>
<rect x="112.80" y="483.30" width="109.20" height="10.30" fill="#EAEAEA"/>
<line x1="174.50" y1="473.00" x2="174.50" y2="503.90" stroke="#3a3a3a" stroke-width="0.85"/>
<rect x="112.3" y="506.40" width="110.20" height="10.00" fill="#fff"/>
<rect x="112.80" y="506.40" width="109.20" height="10.00" fill="#EAEAEA"/>
<line x1="174.50" y1="506.40" x2="174.50" y2="516.40" stroke="#3a3a3a" stroke-width="0.85"/>
<rect x="112.3" y="518.50" width="110.20" height="20.50" fill="#fff"/>
<rect x="112.80" y="528.75" width="109.20" height="10.25" fill="#EAEAEA"/>
<line x1="174.50" y1="518.50" x2="174.50" y2="539.00" stroke="#3a3a3a" stroke-width="0.85"/>
<rect x="112.3" y="541.20" width="110.20" height="20.10" fill="#fff"/>
<rect x="112.80" y="551.25" width="109.20" height="10.05" fill="#EAEAEA"/>
<line x1="174.50" y1="541.20" x2="174.50" y2="561.30" stroke="#3a3a3a" stroke-width="0.85"/>
<rect x="112.3" y="564.00" width="110.20" height="20.20" fill="#fff"/>
<rect x="112.80" y="574.10" width="109.20" height="10.10" fill="#EAEAEA"/>
<line x1="174.50" y1="564.00" x2="174.50" y2="584.20" stroke="#3a3a3a" stroke-width="0.85"/>
<rect x="112.3" y="587.00" width="110.20" height="41.30" fill="#fff"/>
<rect x="112.80" y="597.33" width="109.20" height="10.32" fill="#EAEAEA"/>
<rect x="112.80" y="617.97" width="109.20" height="10.32" fill="#EAEAEA"/>
<line x1="174.50" y1="587.00" x2="174.50" y2="628.30" stroke="#3a3a3a" stroke-width="0.85"/>
<rect x="112.3" y="630.20" width="110.20" height="31.40" fill="#fff"/>
<rect x="112.80" y="640.67" width="109.20" height="10.47" fill="#EAEAEA"/>
<line x1="174.50" y1="630.20" x2="174.50" y2="661.60" stroke="#3a3a3a" stroke-width="0.85"/>
<rect x="112.3" y="473.00" width="110.20" height="30.90" fill="none" stroke="#444" stroke-width="0.9" rx="1.2"/>
<rect x="112.3" y="506.40" width="110.20" height="10.00" fill="none" stroke="#444" stroke-width="0.9" rx="1.2"/>
<rect x="112.3" y="518.50" width="110.20" height="20.50" fill="none" stroke="#444" stroke-width="0.9" rx="1.2"/>
<rect x="112.3" y="541.20" width="110.20" height="20.10" fill="none" stroke="#444" stroke-width="0.9" rx="1.2"/>
<rect x="112.3" y="564.00" width="110.20" height="20.20" fill="none" stroke="#444" stroke-width="0.9" rx="1.2"/>
<rect x="112.3" y="587.00" width="110.20" height="41.30" fill="none" stroke="#444" stroke-width="0.9" rx="1.2"/>
<rect x="112.3" y="630.20" width="110.20" height="31.40" fill="none" stroke="#444" stroke-width="0.9" rx="1.2"/>
<line x1="20.10" y1="505.15" x2="109.60" y2="505.15" stroke="#3a3a3a" stroke-width="1.0"/>
<line x1="20.10" y1="517.45" x2="109.60" y2="517.45" stroke="#3a3a3a" stroke-width="1.0"/>
<line x1="20.10" y1="540.10" x2="109.60" y2="540.10" stroke="#3a3a3a" stroke-width="1.0"/>
<line x1="20.10" y1="562.65" x2="109.60" y2="562.65" stroke="#3a3a3a" stroke-width="1.0"/>
<line x1="20.10" y1="585.60" x2="109.60" y2="585.60" stroke="#3a3a3a" stroke-width="1.0"/>
<line x1="20.10" y1="629.25" x2="109.60" y2="629.25" stroke="#3a3a3a" stroke-width="1.0"/>
<text x="53.50" y="480.15" font-size="5.7" fill="#333" textLength="33.51" lengthAdjust="spacingAndGlyphs" stroke="#333" stroke-width="0.06">Grade 0 (Ref.)</text>
<text x="105.60" y="480.15" font-size="5.7" fill="#333" text-anchor="end" textLength="9.51" lengthAdjust="spacingAndGlyphs" stroke="#333" stroke-width="0.06">409</text>
<text x="227.60" y="480.15" font-size="5.7" fill="#333" textLength="1.9" lengthAdjust="spacingAndGlyphs" stroke="#333" stroke-width="0.06">-</text>
<text x="53.50" y="490.45" font-size="5.7" fill="#333" textLength="23.61" lengthAdjust="spacingAndGlyphs" stroke="#333" stroke-width="0.06">Grade 1-2</text>
<text x="105.60" y="490.45" font-size="5.7" fill="#333" text-anchor="end" textLength="9.51" lengthAdjust="spacingAndGlyphs" stroke="#333" stroke-width="0.06">150</text>
<text x="227.60" y="490.45" font-size="5.7" fill="#333" textLength="11.09" lengthAdjust="spacingAndGlyphs" stroke="#333" stroke-width="0.06">.024</text>
<line x1="176.25" y1="488.45" x2="196.25" y2="488.45" stroke="#25507c" stroke-width="1.05"/>
<circle cx="185.75" cy="488.45" r="1.8" fill="#133760"/>
<text x="53.50" y="500.75" font-size="5.7" fill="#333" textLength="23.61" lengthAdjust="spacingAndGlyphs" stroke="#333" stroke-width="0.06">Grade 3-4</text>
<text x="105.60" y="500.75" font-size="5.7" fill="#333" text-anchor="end" textLength="9.51" lengthAdjust="spacingAndGlyphs" stroke="#333" stroke-width="0.06">153</text>
<text x="227.60" y="500.75" font-size="5.7" fill="#333" textLength="16.01" lengthAdjust="spacingAndGlyphs" stroke="#333" stroke-width="0.06">&lt; .001</text>
<line x1="186.25" y1="498.75" x2="206.25" y2="498.75" stroke="#25507c" stroke-width="1.05"/>
<circle cx="196.25" cy="498.75" r="1.8" fill="#133760"/>
<text x="21.90" y="487.00" font-size="5.7" fill="#333" textLength="11.0" lengthAdjust="spacingAndGlyphs" stroke="#333" stroke-width="0.06">Early</text>
<text x="21.90" y="492.90" font-size="5.7" fill="#333" textLength="20.2" lengthAdjust="spacingAndGlyphs" stroke="#333" stroke-width="0.06">T-ICAHT</text>
<text x="105.60" y="513.60" font-size="5.7" fill="#333" text-anchor="end" textLength="9.51" lengthAdjust="spacingAndGlyphs" stroke="#333" stroke-width="0.06">712</text>
<text x="227.60" y="513.60" font-size="5.7" fill="#333" textLength="11.09" lengthAdjust="spacingAndGlyphs" stroke="#333" stroke-width="0.06">.044</text>
<circle cx="174.5" cy="511.40" r="1.8" fill="#133760"/>
<text x="21.80" y="513.20" font-size="5.7" fill="#333" textLength="9.5" lengthAdjust="spacingAndGlyphs" stroke="#333" stroke-width="0.06">Age</text>
<text x="53.50" y="525.83" font-size="5.7" fill="#333" textLength="23.28" lengthAdjust="spacingAndGlyphs" stroke="#333" stroke-width="0.06">≥90 (Ref.)</text>
<text x="105.60" y="525.83" font-size="5.7" fill="#333" text-anchor="end" textLength="9.51" lengthAdjust="spacingAndGlyphs" stroke="#333" stroke-width="0.06">299</text>
<text x="227.60" y="525.83" font-size="5.7" fill="#333" textLength="1.9" lengthAdjust="spacingAndGlyphs" stroke="#333" stroke-width="0.06">-</text>
<text x="53.50" y="536.08" font-size="5.7" fill="#333" textLength="8.9" lengthAdjust="spacingAndGlyphs" stroke="#333" stroke-width="0.06">&lt;90</text>
<text x="105.60" y="536.08" font-size="5.7" fill="#333" text-anchor="end" textLength="9.51" lengthAdjust="spacingAndGlyphs" stroke="#333" stroke-width="0.06">413</text>
<text x="227.60" y="536.08" font-size="5.7" fill="#333" textLength="16.01" lengthAdjust="spacingAndGlyphs" stroke="#333" stroke-width="0.06">&lt; .001</text>
<line x1="182.00" y1="533.88" x2="201.25" y2="533.88" stroke="#25507c" stroke-width="1.05"/>
<circle cx="191.75" cy="533.88" r="1.8" fill="#133760"/>
<text x="21.80" y="530.55" font-size="5.7" fill="#333" textLength="9.3" lengthAdjust="spacingAndGlyphs" stroke="#333" stroke-width="0.06">KPS</text>
<text x="53.50" y="548.43" font-size="5.7" fill="#333" textLength="31.47" lengthAdjust="spacingAndGlyphs" stroke="#333" stroke-width="0.06">Normal (Ref.)</text>
<text x="105.60" y="548.43" font-size="5.7" fill="#333" text-anchor="end" textLength="9.51" lengthAdjust="spacingAndGlyphs" stroke="#333" stroke-width="0.06">437</text>
<text x="227.60" y="548.43" font-size="5.7" fill="#333" textLength="1.9" lengthAdjust="spacingAndGlyphs" stroke="#333" stroke-width="0.06">-</text>
<text x="53.50" y="558.48" font-size="5.7" fill="#333" textLength="20.41" lengthAdjust="spacingAndGlyphs" stroke="#333" stroke-width="0.06">Elevated</text>
<text x="105.60" y="558.48" font-size="5.7" fill="#333" text-anchor="end" textLength="9.51" lengthAdjust="spacingAndGlyphs" stroke="#333" stroke-width="0.06">275</text>
<text x="227.60" y="558.48" font-size="5.7" fill="#333" textLength="16.01" lengthAdjust="spacingAndGlyphs" stroke="#333" stroke-width="0.06">&lt; .001</text>
<line x1="192.90" y1="556.27" x2="209.90" y2="556.27" stroke="#25507c" stroke-width="1.05"/>
<circle cx="201" cy="556.27" r="1.8" fill="#133760"/>
<text x="21.80" y="553.05" font-size="5.7" fill="#333" textLength="28.6" lengthAdjust="spacingAndGlyphs" stroke="#333" stroke-width="0.06">Pre-LD LDH</text>
<text x="53.50" y="571.25" font-size="5.7" fill="#333" textLength="21.27" lengthAdjust="spacingAndGlyphs" stroke="#333" stroke-width="0.06">No (Ref.)</text>
<text x="105.60" y="571.25" font-size="5.7" fill="#333" text-anchor="end" textLength="9.51" lengthAdjust="spacingAndGlyphs" stroke="#333" stroke-width="0.06">162</text>
<text x="227.60" y="571.25" font-size="5.7" fill="#333" textLength="1.9" lengthAdjust="spacingAndGlyphs" stroke="#333" stroke-width="0.06">-</text>
<text x="53.50" y="581.35" font-size="5.7" fill="#333" textLength="9.04" lengthAdjust="spacingAndGlyphs" stroke="#333" stroke-width="0.06">Yes</text>
<text x="105.60" y="581.35" font-size="5.7" fill="#333" text-anchor="end" textLength="9.51" lengthAdjust="spacingAndGlyphs" stroke="#333" stroke-width="0.06">550</text>
<text x="227.60" y="581.35" font-size="5.7" fill="#333" textLength="4.75" lengthAdjust="spacingAndGlyphs" stroke="#333" stroke-width="0.06">.2</text>
<line x1="171.20" y1="579.15" x2="191.40" y2="579.15" stroke="#25507c" stroke-width="1.05"/>
<circle cx="181" cy="579.15" r="1.8" fill="#133760"/>
<text x="21.80" y="575.90" font-size="5.7" fill="#333" textLength="20.1" lengthAdjust="spacingAndGlyphs" stroke="#333" stroke-width="0.06">Bridging</text>
<text x="53.50" y="594.36" font-size="5.7" fill="#333" textLength="30.3" lengthAdjust="spacingAndGlyphs" stroke="#333" stroke-width="0.06">Axi-cel (Ref.)</text>
<text x="105.60" y="594.36" font-size="5.7" fill="#333" text-anchor="end" textLength="9.51" lengthAdjust="spacingAndGlyphs" stroke="#333" stroke-width="0.06">350</text>
<text x="227.60" y="594.36" font-size="5.7" fill="#333" textLength="1.9" lengthAdjust="spacingAndGlyphs" stroke="#333" stroke-width="0.06">-</text>
<text x="53.50" y="604.69" font-size="5.7" fill="#333" textLength="18.36" lengthAdjust="spacingAndGlyphs" stroke="#333" stroke-width="0.06">Tisa-cel</text>
<text x="105.60" y="604.69" font-size="5.7" fill="#333" text-anchor="end" textLength="9.51" lengthAdjust="spacingAndGlyphs" stroke="#333" stroke-width="0.06">157</text>
<text x="227.60" y="604.69" font-size="5.7" fill="#333" textLength="11.09" lengthAdjust="spacingAndGlyphs" stroke="#333" stroke-width="0.06">.007</text>
<line x1="177.40" y1="602.49" x2="196.50" y2="602.49" stroke="#25507c" stroke-width="1.05"/>
<circle cx="187" cy="602.49" r="1.8" fill="#133760"/>
<text x="53.50" y="615.01" font-size="5.7" fill="#333" textLength="18.07" lengthAdjust="spacingAndGlyphs" stroke="#333" stroke-width="0.06">Liso-cel</text>
<text x="105.60" y="615.01" font-size="5.7" fill="#333" text-anchor="end" textLength="9.51" lengthAdjust="spacingAndGlyphs" stroke="#333" stroke-width="0.06">158</text>
<text x="227.60" y="615.01" font-size="5.7" fill="#333" textLength="4.75" lengthAdjust="spacingAndGlyphs" stroke="#333" stroke-width="0.06">.4</text>
<line x1="157.80" y1="612.81" x2="182.50" y2="612.81" stroke="#25507c" stroke-width="1.05"/>
<circle cx="169.7" cy="612.81" r="1.8" fill="#133760"/>
<text x="53.50" y="625.34" font-size="5.7" fill="#333" textLength="22.15" lengthAdjust="spacingAndGlyphs" stroke="#333" stroke-width="0.06">Brexu-cel</text>
<text x="105.60" y="625.34" font-size="5.7" fill="#333" text-anchor="end" textLength="6.34" lengthAdjust="spacingAndGlyphs" stroke="#333" stroke-width="0.06">47</text>
<text x="227.60" y="625.34" font-size="5.7" fill="#333" textLength="4.75" lengthAdjust="spacingAndGlyphs" stroke="#333" stroke-width="0.06">.3</text>
<line x1="134.80" y1="623.14" x2="187.00" y2="623.14" stroke="#25507c" stroke-width="1.05"/>
<circle cx="161" cy="623.14" r="1.8" fill="#133760"/>
<text x="21.80" y="609.45" font-size="5.7" fill="#333" textLength="19.0" lengthAdjust="spacingAndGlyphs" stroke="#333" stroke-width="0.06">Product</text>
<text x="53.50" y="637.63" font-size="5.7" fill="#333" textLength="27.68" lengthAdjust="spacingAndGlyphs" stroke="#333" stroke-width="0.06">LBCL (Ref.)</text>
<text x="105.60" y="637.63" font-size="5.7" fill="#333" text-anchor="end" textLength="9.51" lengthAdjust="spacingAndGlyphs" stroke="#333" stroke-width="0.06">609</text>
<text x="227.60" y="637.63" font-size="5.7" fill="#333" textLength="1.9" lengthAdjust="spacingAndGlyphs" stroke="#333" stroke-width="0.06">-</text>
<text x="53.50" y="648.10" font-size="5.7" fill="#333" textLength="6.12" lengthAdjust="spacingAndGlyphs" stroke="#333" stroke-width="0.06">FL</text>
<text x="105.60" y="648.10" font-size="5.7" fill="#333" text-anchor="end" textLength="6.34" lengthAdjust="spacingAndGlyphs" stroke="#333" stroke-width="0.06">34</text>
<text x="227.60" y="648.10" font-size="5.7" fill="#333" textLength="4.75" lengthAdjust="spacingAndGlyphs" stroke="#333" stroke-width="0.06">.3</text>
<line x1="117.00" y1="645.90" x2="190.80" y2="645.90" stroke="#25507c" stroke-width="1.05"/>
<circle cx="153.4" cy="645.90" r="1.8" fill="#133760"/>
<text x="53.50" y="658.57" font-size="5.7" fill="#333" textLength="11.07" lengthAdjust="spacingAndGlyphs" stroke="#333" stroke-width="0.06">MCL</text>
<text x="105.60" y="658.57" font-size="5.7" fill="#333" text-anchor="end" textLength="6.34" lengthAdjust="spacingAndGlyphs" stroke="#333" stroke-width="0.06">69</text>
<text x="227.60" y="658.57" font-size="5.7" fill="#333" textLength="11.09" lengthAdjust="spacingAndGlyphs" stroke="#333" stroke-width="0.06">.035</text>
<line x1="175.80" y1="656.37" x2="218.00" y2="656.37" stroke="#25507c" stroke-width="1.05"/>
<circle cx="196.6" cy="656.37" r="1.8" fill="#133760"/>
<text x="21.80" y="647.70" font-size="5.7" fill="#333" textLength="18.6" lengthAdjust="spacingAndGlyphs" stroke="#333" stroke-width="0.06">Disease</text>
<line x1="136.60" y1="661.30" x2="136.60" y2="663.90" stroke="#333" stroke-width="0.85"/>
<text x="136.60" y="671.10" font-size="6.0" fill="#333" text-anchor="middle" textLength="7.92" lengthAdjust="spacingAndGlyphs" stroke="#333" stroke-width="0.06">0.3</text>
<line x1="174.60" y1="661.30" x2="174.60" y2="663.90" stroke="#333" stroke-width="0.85"/>
<text x="174.60" y="671.10" font-size="6.0" fill="#333" text-anchor="middle" textLength="7.92" lengthAdjust="spacingAndGlyphs" stroke="#333" stroke-width="0.06">1.0</text>
<line x1="209.30" y1="661.30" x2="209.30" y2="663.90" stroke="#333" stroke-width="0.85"/>
<text x="209.30" y="671.10" font-size="6.0" fill="#333" text-anchor="middle" textLength="7.92" lengthAdjust="spacingAndGlyphs" stroke="#333" stroke-width="0.06">3.0</text>
<text x="286.25" y="452.90" font-size="8.9" fill="#2a2a2a" textLength="172.95" lengthAdjust="spacingAndGlyphs" stroke="#2a2a2a" stroke-width="0.04">Multivariate Cox Regression for PFS (D30 LM)</text>
<text x="272.00" y="468.80" font-size="6.8" fill="#333" textLength="23.5" lengthAdjust="spacingAndGlyphs" stroke="#333" stroke-width="0.06">Variable</text>
<text x="302.50" y="468.80" font-size="6.8" fill="#333" textLength="17.3" lengthAdjust="spacingAndGlyphs" stroke="#333" stroke-width="0.06">Strata</text>
<text x="352.30" y="468.80" font-size="6.8" fill="#333" text-anchor="end" stroke="#333" stroke-width="0.06">N</text>
<text x="397.50" y="468.80" font-size="6.8" fill="#333" textLength="36.1" lengthAdjust="spacingAndGlyphs" stroke="#333" stroke-width="0.06">Hazard Ratio</text>
<text x="476.60" y="468.8" font-size="6.8" fill="#333" textLength="16.3" lengthAdjust="spacingAndGlyphs">adj. <tspan font-style="italic">P</tspan></text>
<rect x="359.5" y="473.00" width="110.50" height="30.90" fill="#fff"/>
<rect x="360.00" y="483.30" width="109.50" height="10.30" fill="#EAEAEA"/>
<line x1="439.20" y1="473.00" x2="439.20" y2="503.90" stroke="#3a3a3a" stroke-width="0.85"/>
<rect x="359.5" y="506.40" width="110.50" height="10.00" fill="#fff"/>
<rect x="360.00" y="506.40" width="109.50" height="10.00" fill="#EAEAEA"/>
<line x1="439.20" y1="506.40" x2="439.20" y2="516.40" stroke="#3a3a3a" stroke-width="0.85"/>
<rect x="359.5" y="518.50" width="110.50" height="20.50" fill="#fff"/>
<rect x="360.00" y="528.75" width="109.50" height="10.25" fill="#EAEAEA"/>
<line x1="439.20" y1="518.50" x2="439.20" y2="539.00" stroke="#3a3a3a" stroke-width="0.85"/>
<rect x="359.5" y="541.20" width="110.50" height="20.10" fill="#fff"/>
<rect x="360.00" y="551.25" width="109.50" height="10.05" fill="#EAEAEA"/>
<line x1="439.20" y1="541.20" x2="439.20" y2="561.30" stroke="#3a3a3a" stroke-width="0.85"/>
<rect x="359.5" y="564.00" width="110.50" height="20.20" fill="#fff"/>
<rect x="360.00" y="574.10" width="109.50" height="10.10" fill="#EAEAEA"/>
<line x1="439.20" y1="564.00" x2="439.20" y2="584.20" stroke="#3a3a3a" stroke-width="0.85"/>
<rect x="359.5" y="587.00" width="110.50" height="41.30" fill="#fff"/>
<rect x="360.00" y="597.33" width="109.50" height="10.32" fill="#EAEAEA"/>
<rect x="360.00" y="617.97" width="109.50" height="10.32" fill="#EAEAEA"/>
<line x1="439.20" y1="587.00" x2="439.20" y2="628.30" stroke="#3a3a3a" stroke-width="0.85"/>
<rect x="359.5" y="630.20" width="110.50" height="31.40" fill="#fff"/>
<rect x="360.00" y="640.67" width="109.50" height="10.47" fill="#EAEAEA"/>
<line x1="439.20" y1="630.20" x2="439.20" y2="661.60" stroke="#3a3a3a" stroke-width="0.85"/>
<rect x="359.5" y="473.00" width="110.50" height="30.90" fill="none" stroke="#444" stroke-width="0.9" rx="1.2"/>
<rect x="359.5" y="506.40" width="110.50" height="10.00" fill="none" stroke="#444" stroke-width="0.9" rx="1.2"/>
<rect x="359.5" y="518.50" width="110.50" height="20.50" fill="none" stroke="#444" stroke-width="0.9" rx="1.2"/>
<rect x="359.5" y="541.20" width="110.50" height="20.10" fill="none" stroke="#444" stroke-width="0.9" rx="1.2"/>
<rect x="359.5" y="564.00" width="110.50" height="20.20" fill="none" stroke="#444" stroke-width="0.9" rx="1.2"/>
<rect x="359.5" y="587.00" width="110.50" height="41.30" fill="none" stroke="#444" stroke-width="0.9" rx="1.2"/>
<rect x="359.5" y="630.20" width="110.50" height="31.40" fill="none" stroke="#444" stroke-width="0.9" rx="1.2"/>
<line x1="268.80" y1="505.15" x2="358.00" y2="505.15" stroke="#3a3a3a" stroke-width="1.0"/>
<line x1="268.80" y1="517.45" x2="358.00" y2="517.45" stroke="#3a3a3a" stroke-width="1.0"/>
<line x1="268.80" y1="540.10" x2="358.00" y2="540.10" stroke="#3a3a3a" stroke-width="1.0"/>
<line x1="268.80" y1="562.65" x2="358.00" y2="562.65" stroke="#3a3a3a" stroke-width="1.0"/>
<line x1="268.80" y1="585.60" x2="358.00" y2="585.60" stroke="#3a3a3a" stroke-width="1.0"/>
<line x1="268.80" y1="629.25" x2="358.00" y2="629.25" stroke="#3a3a3a" stroke-width="1.0"/>
<text x="302.50" y="480.15" font-size="5.7" fill="#333" textLength="33.51" lengthAdjust="spacingAndGlyphs" stroke="#333" stroke-width="0.06">Grade 0 (Ref.)</text>
<text x="354.10" y="480.15" font-size="5.7" fill="#333" text-anchor="end" textLength="9.51" lengthAdjust="spacingAndGlyphs" stroke="#333" stroke-width="0.06">376</text>
<text x="476.80" y="480.15" font-size="5.7" fill="#333" textLength="1.9" lengthAdjust="spacingAndGlyphs" stroke="#333" stroke-width="0.06">-</text>
<text x="302.50" y="490.45" font-size="5.7" fill="#333" textLength="23.61" lengthAdjust="spacingAndGlyphs" stroke="#333" stroke-width="0.06">Grade 1-2</text>
<text x="354.10" y="490.45" font-size="5.7" fill="#333" text-anchor="end" textLength="9.51" lengthAdjust="spacingAndGlyphs" stroke="#333" stroke-width="0.06">139</text>
<text x="476.80" y="490.45" font-size="5.7" fill="#333" textLength="4.75" lengthAdjust="spacingAndGlyphs" stroke="#333" stroke-width="0.06">.5</text>
<line x1="433.75" y1="488.45" x2="450.75" y2="488.45" stroke="#25507c" stroke-width="1.05"/>
<circle cx="442.5" cy="488.45" r="1.8" fill="#133760"/>
<text x="302.50" y="500.75" font-size="5.7" fill="#333" textLength="23.61" lengthAdjust="spacingAndGlyphs" stroke="#333" stroke-width="0.06">Grade 3-4</text>
<text x="354.10" y="500.75" font-size="5.7" fill="#333" text-anchor="end" textLength="9.51" lengthAdjust="spacingAndGlyphs" stroke="#333" stroke-width="0.06">128</text>
<text x="476.80" y="500.75" font-size="5.7" fill="#333" textLength="11.09" lengthAdjust="spacingAndGlyphs" stroke="#333" stroke-width="0.06">.003</text>
<line x1="443.00" y1="498.75" x2="460.50" y2="498.75" stroke="#25507c" stroke-width="1.05"/>
<circle cx="452" cy="498.75" r="1.8" fill="#133760"/>
<text x="271.20" y="487.00" font-size="5.7" fill="#333" textLength="11.0" lengthAdjust="spacingAndGlyphs" stroke="#333" stroke-width="0.06">Early</text>
<text x="271.20" y="492.90" font-size="5.7" fill="#333" textLength="20.2" lengthAdjust="spacingAndGlyphs" stroke="#333" stroke-width="0.06">T-ICAHT</text>
<text x="354.10" y="513.60" font-size="5.7" fill="#333" text-anchor="end" textLength="9.51" lengthAdjust="spacingAndGlyphs" stroke="#333" stroke-width="0.06">643</text>
<text x="476.80" y="513.60" font-size="5.7" fill="#333" textLength="4.75" lengthAdjust="spacingAndGlyphs" stroke="#333" stroke-width="0.06">.8</text>
<circle cx="439.25" cy="511.40" r="1.8" fill="#133760"/>
<text x="271.10" y="513.20" font-size="5.7" fill="#333" textLength="9.5" lengthAdjust="spacingAndGlyphs" stroke="#333" stroke-width="0.06">Age</text>
<text x="302.50" y="525.83" font-size="5.7" fill="#333" textLength="23.28" lengthAdjust="spacingAndGlyphs" stroke="#333" stroke-width="0.06">≥90 (Ref.)</text>
<text x="354.10" y="525.83" font-size="5.7" fill="#333" text-anchor="end" textLength="9.51" lengthAdjust="spacingAndGlyphs" stroke="#333" stroke-width="0.06">276</text>
<text x="476.80" y="525.83" font-size="5.7" fill="#333" textLength="1.9" lengthAdjust="spacingAndGlyphs" stroke="#333" stroke-width="0.06">-</text>
<text x="302.50" y="536.08" font-size="5.7" fill="#333" textLength="8.9" lengthAdjust="spacingAndGlyphs" stroke="#333" stroke-width="0.06">&lt;90</text>
<text x="354.10" y="536.08" font-size="5.7" fill="#333" text-anchor="end" textLength="9.51" lengthAdjust="spacingAndGlyphs" stroke="#333" stroke-width="0.06">367</text>
<text x="476.80" y="536.08" font-size="5.7" fill="#333" textLength="11.09" lengthAdjust="spacingAndGlyphs" stroke="#333" stroke-width="0.06">.010</text>
<line x1="441.75" y1="533.88" x2="458.25" y2="533.88" stroke="#25507c" stroke-width="1.05"/>
<circle cx="450" cy="533.88" r="1.8" fill="#133760"/>
<text x="271.10" y="530.55" font-size="5.7" fill="#333" textLength="9.3" lengthAdjust="spacingAndGlyphs" stroke="#333" stroke-width="0.06">KPS</text>
<text x="302.50" y="548.43" font-size="5.7" fill="#333" textLength="31.47" lengthAdjust="spacingAndGlyphs" stroke="#333" stroke-width="0.06">Normal (Ref.)</text>
<text x="354.10" y="548.43" font-size="5.7" fill="#333" text-anchor="end" textLength="9.51" lengthAdjust="spacingAndGlyphs" stroke="#333" stroke-width="0.06">410</text>
<text x="476.80" y="548.43" font-size="5.7" fill="#333" textLength="1.9" lengthAdjust="spacingAndGlyphs" stroke="#333" stroke-width="0.06">-</text>
<text x="302.50" y="558.48" font-size="5.7" fill="#333" textLength="20.41" lengthAdjust="spacingAndGlyphs" stroke="#333" stroke-width="0.06">Elevated</text>
<text x="354.10" y="558.48" font-size="5.7" fill="#333" text-anchor="end" textLength="9.51" lengthAdjust="spacingAndGlyphs" stroke="#333" stroke-width="0.06">233</text>
<text x="476.80" y="558.48" font-size="5.7" fill="#333" textLength="16.01" lengthAdjust="spacingAndGlyphs" stroke="#333" stroke-width="0.06">&lt; .001</text>
<line x1="450.90" y1="556.27" x2="464.50" y2="556.27" stroke="#25507c" stroke-width="1.05"/>
<circle cx="457.2" cy="556.27" r="1.8" fill="#133760"/>
<text x="271.10" y="553.05" font-size="5.7" fill="#333" textLength="28.6" lengthAdjust="spacingAndGlyphs" stroke="#333" stroke-width="0.06">Pre-LD LDH</text>
<text x="302.50" y="571.25" font-size="5.7" fill="#333" textLength="21.27" lengthAdjust="spacingAndGlyphs" stroke="#333" stroke-width="0.06">No (Ref.)</text>
<text x="354.10" y="571.25" font-size="5.7" fill="#333" text-anchor="end" textLength="9.51" lengthAdjust="spacingAndGlyphs" stroke="#333" stroke-width="0.06">152</text>
<text x="476.80" y="571.25" font-size="5.7" fill="#333" textLength="1.9" lengthAdjust="spacingAndGlyphs" stroke="#333" stroke-width="0.06">-</text>
<text x="302.50" y="581.35" font-size="5.7" fill="#333" textLength="9.04" lengthAdjust="spacingAndGlyphs" stroke="#333" stroke-width="0.06">Yes</text>
<text x="354.10" y="581.35" font-size="5.7" fill="#333" text-anchor="end" textLength="9.51" lengthAdjust="spacingAndGlyphs" stroke="#333" stroke-width="0.06">491</text>
<text x="476.80" y="581.35" font-size="5.7" fill="#333" textLength="4.75" lengthAdjust="spacingAndGlyphs" stroke="#333" stroke-width="0.06">.5</text>
<line x1="434.40" y1="579.15" x2="450.20" y2="579.15" stroke="#25507c" stroke-width="1.05"/>
<circle cx="442.3" cy="579.15" r="1.8" fill="#133760"/>
<text x="271.10" y="575.90" font-size="5.7" fill="#333" textLength="20.1" lengthAdjust="spacingAndGlyphs" stroke="#333" stroke-width="0.06">Bridging</text>
<text x="302.50" y="594.36" font-size="5.7" fill="#333" textLength="30.3" lengthAdjust="spacingAndGlyphs" stroke="#333" stroke-width="0.06">Axi-cel (Ref.)</text>
<text x="354.10" y="594.36" font-size="5.7" fill="#333" text-anchor="end" textLength="9.51" lengthAdjust="spacingAndGlyphs" stroke="#333" stroke-width="0.06">318</text>
<text x="476.80" y="594.36" font-size="5.7" fill="#333" textLength="1.9" lengthAdjust="spacingAndGlyphs" stroke="#333" stroke-width="0.06">-</text>
<text x="302.50" y="604.69" font-size="5.7" fill="#333" textLength="18.36" lengthAdjust="spacingAndGlyphs" stroke="#333" stroke-width="0.06">Tisa-cel</text>
<text x="354.10" y="604.69" font-size="5.7" fill="#333" text-anchor="end" textLength="9.51" lengthAdjust="spacingAndGlyphs" stroke="#333" stroke-width="0.06">128</text>
<text x="476.80" y="604.69" font-size="5.7" fill="#333" textLength="11.09" lengthAdjust="spacingAndGlyphs" stroke="#333" stroke-width="0.06">.042</text>
<line x1="440.00" y1="602.49" x2="457.20" y2="602.49" stroke="#25507c" stroke-width="1.05"/>
<circle cx="448" cy="602.49" r="1.8" fill="#133760"/>
<text x="302.50" y="615.01" font-size="5.7" fill="#333" textLength="18.07" lengthAdjust="spacingAndGlyphs" stroke="#333" stroke-width="0.06">Liso-cel</text>
<text x="354.10" y="615.01" font-size="5.7" fill="#333" text-anchor="end" textLength="9.51" lengthAdjust="spacingAndGlyphs" stroke="#333" stroke-width="0.06">152</text>
<text x="476.80" y="615.01" font-size="5.7" fill="#333" textLength="4.75" lengthAdjust="spacingAndGlyphs" stroke="#333" stroke-width="0.06">.5</text>
<line x1="425.50" y1="612.81" x2="446.10" y2="612.81" stroke="#25507c" stroke-width="1.05"/>
<circle cx="436" cy="612.81" r="1.8" fill="#133760"/>
<text x="302.50" y="625.34" font-size="5.7" fill="#333" textLength="22.15" lengthAdjust="spacingAndGlyphs" stroke="#333" stroke-width="0.06">Brexu-cel</text>
<text x="354.10" y="625.34" font-size="5.7" fill="#333" text-anchor="end" textLength="6.34" lengthAdjust="spacingAndGlyphs" stroke="#333" stroke-width="0.06">45</text>
<text x="476.80" y="625.34" font-size="5.7" fill="#333" textLength="4.75" lengthAdjust="spacingAndGlyphs" stroke="#333" stroke-width="0.06">.5</text>
<line x1="409.60" y1="623.14" x2="455.00" y2="623.14" stroke="#25507c" stroke-width="1.05"/>
<circle cx="431.8" cy="623.14" r="1.8" fill="#133760"/>
<text x="271.10" y="609.45" font-size="5.7" fill="#333" textLength="19.0" lengthAdjust="spacingAndGlyphs" stroke="#333" stroke-width="0.06">Product</text>
<text x="302.50" y="637.63" font-size="5.7" fill="#333" textLength="27.68" lengthAdjust="spacingAndGlyphs" stroke="#333" stroke-width="0.06">LBCL (Ref.)</text>
<text x="354.10" y="637.63" font-size="5.7" fill="#333" text-anchor="end" textLength="9.51" lengthAdjust="spacingAndGlyphs" stroke="#333" stroke-width="0.06">545</text>
<text x="476.80" y="637.63" font-size="5.7" fill="#333" textLength="1.9" lengthAdjust="spacingAndGlyphs" stroke="#333" stroke-width="0.06">-</text>
<text x="302.50" y="648.10" font-size="5.7" fill="#333" textLength="6.12" lengthAdjust="spacingAndGlyphs" stroke="#333" stroke-width="0.06">FL</text>
<text x="354.10" y="648.10" font-size="5.7" fill="#333" text-anchor="end" textLength="6.34" lengthAdjust="spacingAndGlyphs" stroke="#333" stroke-width="0.06">32</text>
<text x="476.80" y="648.10" font-size="5.7" fill="#333" textLength="11.09" lengthAdjust="spacingAndGlyphs" stroke="#333" stroke-width="0.06">.015</text>
<line x1="363.90" y1="645.90" x2="431.80" y2="645.90" stroke="#25507c" stroke-width="1.05"/>
<circle cx="397.9" cy="645.90" r="1.8" fill="#133760"/>
<text x="302.50" y="658.57" font-size="5.7" fill="#333" textLength="11.07" lengthAdjust="spacingAndGlyphs" stroke="#333" stroke-width="0.06">MCL</text>
<text x="354.10" y="658.57" font-size="5.7" fill="#333" text-anchor="end" textLength="6.34" lengthAdjust="spacingAndGlyphs" stroke="#333" stroke-width="0.06">66</text>
<text x="476.80" y="658.57" font-size="5.7" fill="#333" textLength="4.75" lengthAdjust="spacingAndGlyphs" stroke="#333" stroke-width="0.06">.4</text>
<line x1="428.70" y1="656.37" x2="465.50" y2="656.37" stroke="#25507c" stroke-width="1.05"/>
<circle cx="447" cy="656.37" r="1.8" fill="#133760"/>
<text x="271.10" y="647.70" font-size="5.7" fill="#333" textLength="18.6" lengthAdjust="spacingAndGlyphs" stroke="#333" stroke-width="0.06">Disease</text>
<line x1="371.80" y1="661.30" x2="371.80" y2="663.90" stroke="#333" stroke-width="0.85"/>
<text x="371.80" y="671.10" font-size="6.0" fill="#333" text-anchor="middle" textLength="7.92" lengthAdjust="spacingAndGlyphs" stroke="#333" stroke-width="0.06">0.1</text>
<line x1="404.20" y1="661.30" x2="404.20" y2="663.90" stroke="#333" stroke-width="0.85"/>
<text x="404.20" y="671.10" font-size="6.0" fill="#333" text-anchor="middle" textLength="7.92" lengthAdjust="spacingAndGlyphs" stroke="#333" stroke-width="0.06">0.3</text>
<line x1="439.10" y1="661.30" x2="439.10" y2="663.90" stroke="#333" stroke-width="0.85"/>
<text x="439.10" y="671.10" font-size="6.0" fill="#333" text-anchor="middle" textLength="7.92" lengthAdjust="spacingAndGlyphs" stroke="#333" stroke-width="0.06">1.0</text>
<rect x="0.5" y="0.5" width="519" height="678" fill="none" stroke="#555" stroke-width="1"/>
</svg>
</body></html>
